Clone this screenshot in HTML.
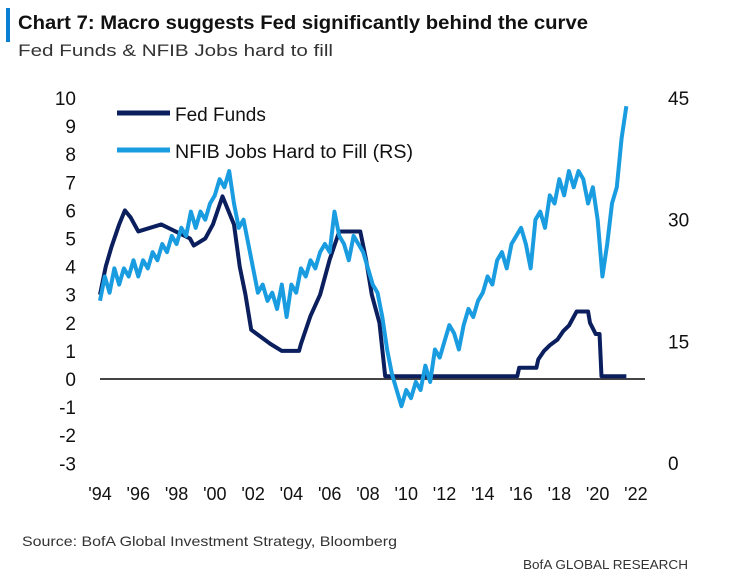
<!DOCTYPE html>
<html><head><meta charset="utf-8"><style>
body{margin:0;background:#fff;width:730px;height:581px;overflow:hidden;font-family:"Liberation Sans",sans-serif}
</style></head><body>
<svg width="730" height="581" style="position:absolute;left:0;top:0">
<rect x="6" y="8" width="4" height="34" fill="#0a7fd4"/>
<text x="18" y="29" font-size="19" font-weight="bold" fill="#111" textLength="570" lengthAdjust="spacingAndGlyphs">Chart 7: Macro suggests Fed significantly behind the curve</text>
<text x="18" y="56" font-size="17" fill="#333" textLength="315" lengthAdjust="spacingAndGlyphs">Fed Funds &amp; NFIB Jobs hard to fill</text>
<g id="axes"></g>
<g id="series"></g>
<line x1="117" y1="113" x2="170" y2="113" stroke="#0b1f5e" stroke-width="5"/>
<text x="175" y="121" font-size="19" fill="#111">Fed Funds</text>
<line x1="117" y1="150" x2="170" y2="150" stroke="#1a9ce0" stroke-width="5"/>
<text x="175" y="158" font-size="19" fill="#111" textLength="238" lengthAdjust="spacingAndGlyphs">NFIB Jobs Hard to Fill (RS)</text>
<text x="22" y="546" font-size="14" fill="#333" textLength="375" lengthAdjust="spacingAndGlyphs">Source:  BofA Global Investment Strategy, Bloomberg</text>
<text x="688" y="569" font-size="13" fill="#333" text-anchor="end" textLength="165" lengthAdjust="spacingAndGlyphs">BofA GLOBAL RESEARCH</text>
</svg>
<script>
const leftTicks=[10,9,8,7,6,5,4,3,2,1,0,-1,-2,-3];
const rightTicks=[45,30,15,0];
const xTicks=["'94","'96","'98","'00","'02","'04","'06","'08","'10","'12","'14","'16","'18","'20","'22"];
const fedYears=[1994,1994.3,1994.6,1995.0,1995.3,1995.6,1996.0,1997.2,1998.7,1998.9,1999.5,1999.9,2000.4,2001.0,2001.3,2001.6,2001.9,2002.9,2003.5,2004.4,2004.5,2005.0,2005.5,2006.0,2006.5,2007.6,2007.9,2008.2,2008.6,2008.9,2015.8,2015.9,2016.8,2016.9,2017.2,2017.5,2017.9,2018.2,2018.5,2018.9,2019.5,2019.6,2019.9,2020.1,2020.2,2021.5];
const fedVals=[3.0,4.0,4.7,5.5,6.0,5.75,5.25,5.5,5.0,4.75,5.0,5.5,6.5,5.5,4.0,3.0,1.75,1.25,1.0,1.0,1.25,2.25,3.0,4.25,5.25,5.25,4.25,3.0,2.0,0.1,0.1,0.4,0.4,0.7,1.0,1.2,1.4,1.7,1.9,2.4,2.4,2.0,1.6,1.6,0.1,0.1];
const nfibStart=1994;
const nfibVals=[20,23,21,24,22,24,23,25,23,25,24,26,25,27,26,28,27,29,28,31,29,31,30,32,33,35,34,36,32,29,30,27,24,21,22,20,21,19,22,18,22,21,24,23,25,24,26,27,26,31,28,27,25,28,27,26,24,22,21,18,14,11,9,7,9,8,10,9,12,10,14,13,15,17,16,14,17,19,18,20,21,23,22,25,26,24,27,28,29,27,24,30,31,29,33,32,35,33,36,34,36,35,32,34,30,23,27,32,34,40,44];
const NS="http://www.w3.org/2000/svg";
const xS=y=>100+(y-1994)*19.14;
const yL=v=>379-v*28.1;
const yR=v=>463-v*8.11;
const ax=document.getElementById('axes'),se=document.getElementById('series');
function mk(t,a,p){const e=document.createElementNS(NS,t);for(const k in a)e.setAttribute(k,a[k]);p.appendChild(e);return e;}
leftTicks.forEach(v=>{const t=mk('text',{x:76,y:yL(v)+7,'font-size':19,'text-anchor':'end',fill:'#111'},ax);t.textContent=v;

});
rightTicks.forEach(v=>{const t=mk('text',{x:668,y:yR(v)+7,'font-size':19,fill:'#111'},ax);t.textContent=v;

});
xTicks.forEach((s,i)=>{const t=mk('text',{x:xS(1994+2*i),y:500,'font-size':18,'text-anchor':'middle',fill:'#111'},ax);t.textContent=s;

});
const zl=mk('line',{x1:100,x2:645,y1:yL(0),y2:yL(0),stroke:'#444','stroke-width':2},ax);


const fp=mk('polyline',{points:fedYears.map((y,i)=>xS(y)+','+yL(fedVals[i])).join(' '),fill:'none',stroke:'#0b1f5e','stroke-width':4,'stroke-linejoin':'round'},se);


const np=mk('polyline',{points:nfibVals.map((v,i)=>xS(nfibStart+i*0.25)+','+yR(v)).join(' '),fill:'none',stroke:'#1a9ce0','stroke-width':4,'stroke-linejoin':'round'},se);


</script>
</body></html>
